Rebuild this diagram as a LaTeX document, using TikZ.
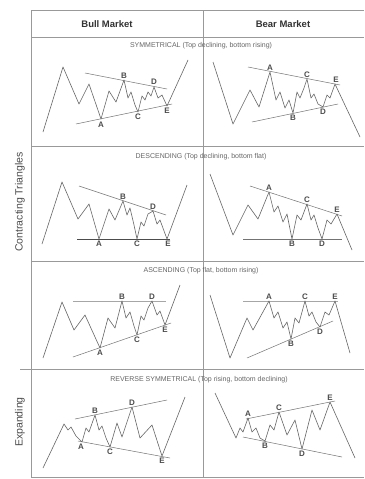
\documentclass[tikz,border=0pt]{standalone}
\usepackage{fontspec}
\setmainfont{Liberation Sans}
\begin{document}
\begin{tikzpicture}[x=1pt,y=-1pt,
  grid/.style={draw=black!40,line width=0.9pt},
  chart/.style={draw=black!60,line width=0.6pt,line join=round},
  trend/.style={draw=black!55,line width=0.5pt},
  flat/.style={draw=black!70,line width=0.9pt},
  lbl/.style={font=\fontsize{8}{8}\selectfont\bfseries,text=black!70,inner sep=0.6pt},
  head/.style={font=\fontsize{9.5}{9.5}\selectfont\bfseries,text=black!80},
  ttl/.style={font=\fontsize{7}{7}\selectfont,text=black!60},
  side/.style={font=\fontsize{10.5}{10.5}\selectfont,text=black!70,rotate=90}]
\useasboundingbox[fill=white] (0,0) rectangle (364,479);
% frame
\draw[grid] (31,10) -- (364,10);
\draw[grid] (31,10) -- (31,477) -- (364,477);
\draw[grid] (203,10) -- (203,477);
\draw[grid] (31,37) -- (364,37);
\draw[grid] (31,146) -- (364,146);
\draw[grid] (31,261) -- (364,261);
\draw[grid] (20,369) -- (364,369);
% headers
\node[head] (hbull) at (107,24) {Bull Market};
\node[head] (hbear) at (283,24) {Bear Market};
\node[side] (sct) at (20,202) {Contracting Triangles};
\node[side] (sex) at (20,422) {Expanding};
% titles
\node[ttl] (t1) at (201,46) {SYMMETRICAL (Top declining, bottom rising)};
\node[ttl] (t2) at (201,157) {DESCENDING (Top declining, bottom flat)};
\node[ttl] (t3) at (201,271) {ASCENDING (Top flat, bottom rising)};
\node[ttl] (t4) at (199,380) {REVERSE SYMMETRICAL (Top rising, bottom declining)};

% ---------- Row 1 Bull
\draw[trend] (85,73) -- (167,89);
\draw[trend] (76,124) -- (172,104);
\draw[chart] (43,132) -- (63,67) -- (79,104) -- (89,84) -- (101,119) -- (109,91) -- (116,102) -- (124,80) -- (128,98) -- (131,92) -- (135,105) -- (138,112) -- (142,96) -- (145,100) -- (148,92) -- (151,96) -- (154,87) -- (158,98) -- (162,95) -- (167,106) -- (188,60);
\node[lbl,anchor=north] (r1bA) at (101,121) {A};
\node[lbl,anchor=south] (r1bB) at (124,79) {B};
\node[lbl,anchor=north] (r1bC) at (138,113) {C};
\node[lbl,anchor=south] (r1bD) at (154,85) {D};
\node[lbl,anchor=north] (r1bE) at (167,107) {E};
% ---------- Row 1 Bear
\draw[trend] (248,67) -- (340,85);
\draw[trend] (252,122) -- (338,104);
\draw[chart] (213,62) -- (233,124) -- (250,90) -- (259,107) -- (270,72) -- (276,100) -- (280,92) -- (285,108) -- (289,100) -- (293,113) -- (297,92) -- (300,98) -- (304,88) -- (307,79) -- (311,98) -- (314,94) -- (318,104) -- (323,107) -- (327,95) -- (330,98) -- (335,84) -- (360,137);
\node[lbl,anchor=south] (r1rA) at (270,71) {A};
\node[lbl,anchor=north] (r1rB) at (293,114) {B};
\node[lbl,anchor=south] (r1rC) at (307,78) {C};
\node[lbl,anchor=north] (r1rD) at (323,108) {D};
\node[lbl,anchor=south] (r1rE) at (336,83) {E};

% ---------- Row 2 Bull
\draw[trend] (79,186) -- (166,215);
\draw[flat] (77,239) -- (170,239);
\draw[chart] (42,244) -- (62,182) -- (78,219) -- (89,204) -- (99,239) -- (109,209) -- (115,220) -- (123,201) -- (127,215) -- (130,208) -- (134,225) -- (137,239) -- (141,222) -- (144,226) -- (148,214) -- (153,211) -- (157,224) -- (160,220) -- (167,239) -- (187,185);
\node[lbl,anchor=north] (r2bA) at (99,240) {A};
\node[lbl,anchor=south] (r2bB) at (123,200) {B};
\node[lbl,anchor=north] (r2bC) at (137,240) {C};
\node[lbl,anchor=south] (r2bD) at (153,210) {D};
\node[lbl,anchor=north] (r2bE) at (168,240) {E};
% ---------- Row 2 Bear
\draw[trend] (250,186) -- (342,216);
\draw[trend] (243,239) -- (342,239);
\draw[chart] (210,174) -- (233,235) -- (248,205) -- (258,219) -- (269,192) -- (274,212) -- (278,206) -- (283,222) -- (287,214) -- (292,239) -- (297,215) -- (301,220) -- (307,204) -- (311,220) -- (314,215) -- (318,228) -- (322,239) -- (327,220) -- (331,224) -- (337,214) -- (352,250);
\node[lbl,anchor=south] (r2rA) at (269,191) {A};
\node[lbl,anchor=north] (r2rB) at (292,240) {B};
\node[lbl,anchor=south] (r2rC) at (307,203) {C};
\node[lbl,anchor=north] (r2rD) at (322,240) {D};
\node[lbl,anchor=south] (r2rE) at (337,213) {E};

% ---------- Row 3 Bull
\draw[trend,black!35] (73,301) -- (166,301);
\draw[trend] (73,357) -- (171,323);
\draw[chart] (43,358) -- (62,302) -- (74,330) -- (85,315) -- (100,348) -- (108,318) -- (115,328) -- (122,301) -- (126,318) -- (130,312) -- (134,326) -- (137,335) -- (141,316) -- (144,320) -- (148,308) -- (152,301) -- (157,315) -- (160,311) -- (165,325) -- (180,285);
\node[lbl,anchor=north] (r3bA) at (100,349) {A};
\node[lbl,anchor=south] (r3bB) at (122,300) {B};
\node[lbl,anchor=north] (r3bC) at (137,336) {C};
\node[lbl,anchor=south] (r3bD) at (152,300) {D};
\node[lbl,anchor=north] (r3bE) at (165,326) {E};
% ---------- Row 3 Bear
\draw[trend,black!35] (243,301) -- (338,301);
\draw[trend] (247,358) -- (333,321);
\draw[chart] (210,295) -- (230,358) -- (247,318) -- (253,330) -- (269,301) -- (274,318) -- (278,312) -- (283,328) -- (287,322) -- (291,339) -- (295,318) -- (299,323) -- (305,301) -- (309,316) -- (312,312) -- (316,322) -- (320,327) -- (325,312) -- (329,315) -- (335,301) -- (350,353);
\node[lbl,anchor=south] (r3rA) at (269,300) {A};
\node[lbl,anchor=north] (r3rB) at (291,340) {B};
\node[lbl,anchor=south] (r3rC) at (305,300) {C};
\node[lbl,anchor=north] (r3rD) at (320,328) {D};
\node[lbl,anchor=south] (r3rE) at (335,300) {E};

% ---------- Row 4 Bull
\draw[trend] (75,419) -- (167,400);
\draw[trend] (78,441) -- (170,458);
\draw[chart] (43,468) -- (64,424) -- (68,430) -- (71,427) -- (76,436) -- (82,442) -- (86,428) -- (89,432) -- (95,415) -- (99,430) -- (102,426) -- (106,438) -- (110,447) -- (117,423) -- (122,437) -- (132,407) -- (140,438) -- (152,425) -- (162,456) -- (185,397);
\node[lbl,anchor=north] (r4bA) at (81,443) {A};
\node[lbl,anchor=south] (r4bB) at (95,414) {B};
\node[lbl,anchor=north] (r4bC) at (110,448) {C};
\node[lbl,anchor=south] (r4bD) at (132,406) {D};
\node[lbl,anchor=north] (r4bE) at (162,457) {E};
% ---------- Row 4 Bear
\draw[trend] (246,419) -- (335,401);
\draw[trend] (243,437) -- (342,457);
\draw[chart] (215,393) -- (236,438) -- (240,428) -- (243,432) -- (248,418) -- (252,432) -- (256,428) -- (260,438) -- (265,441) -- (270,425) -- (274,430) -- (279,412) -- (287,435) -- (295,420) -- (302,449) -- (312,410) -- (320,430) -- (330,402) -- (355,458);
\node[lbl,anchor=south] (r4rA) at (248,417) {A};
\node[lbl,anchor=north] (r4rB) at (265,442) {B};
\node[lbl,anchor=south] (r4rC) at (279,411) {C};
\node[lbl,anchor=north] (r4rD) at (302,450) {D};
\node[lbl,anchor=south] (r4rE) at (330,401) {E};
\end{tikzpicture}
\end{document}
